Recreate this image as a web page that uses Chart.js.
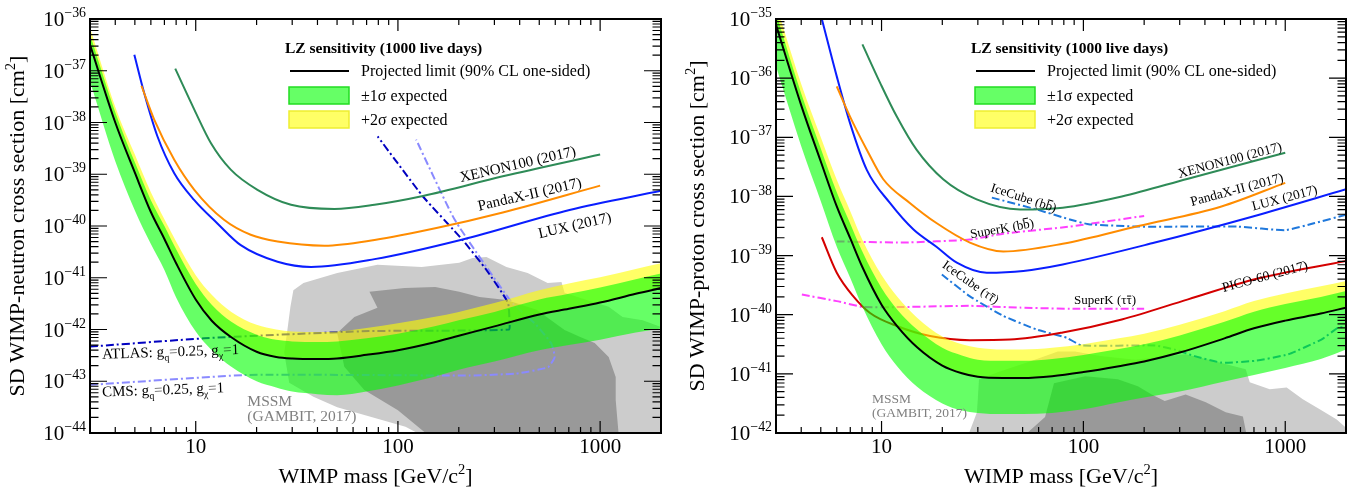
<!DOCTYPE html>
<html>
<head>
<meta charset="utf-8">
<script src="https://cdn.jsdelivr.net/npm/chart.js@4.4.0/dist/chart.umd.min.js"></script>
<style>
    html, body { margin: 0; padding: 0; background: #fff; }
    #wrap { position: relative; width: 1354px; height: 489px; }
    canvas { position: absolute; top: 0; }
    #neutronChart { left: 0; }
    #protonChart { left: 677px; }
</style>
</head>
<body>
<div id="wrap">
    <canvas id="neutronChart" width="677" height="489"></canvas>
    <canvas id="protonChart" width="677" height="489"></canvas>
</div>
<script>
// LZ projected SD sensitivity, values are log10(cross section / cm^2)

// Common WIMP mass grid for the LZ bands [GeV/c^2]
const massGrid = [3, 4, 5, 6, 7, 8, 10, 12, 15, 20, 25, 30, 40, 50, 70, 100, 150, 200, 300, 500, 700, 1000, 1500, 2000];

// Tick labels
const massTickValues = [10, 100, 1000];
const massTickLabels = ['10', '100', '1000'];
const neutronExponents = [-44, -43, -42, -41, -40, -39, -38, -37, -36];
const protonExponents = [-42, -41, -40, -39, -38, -37, -36, -35];

// ---- SD WIMP-neutron ----
const neutronMedian = [-36.50, -38.00, -38.97, -39.73, -40.25, -40.72, -41.42, -41.83, -42.15, -42.43, -42.53, -42.56, -42.57, -42.56, -42.49, -42.40, -42.25, -42.12, -41.94, -41.71, -41.60, -41.48, -41.31, -41.20];
const neutronPlus1 = [-36.30, -37.80, -38.77, -39.50, -40.00, -40.45, -41.12, -41.52, -41.85, -42.10, -42.20, -42.23, -42.24, -42.23, -42.17, -42.08, -41.94, -41.82, -41.66, -41.42, -41.31, -41.19, -41.03, -40.92];
const neutronPlus2 = [-36.17, -37.70, -38.62, -39.35, -39.87, -40.30, -40.95, -41.33, -41.66, -41.91, -42.00, -42.04, -42.05, -42.04, -41.97, -41.88, -41.76, -41.66, -41.49, -41.24, -41.11, -40.99, -40.83, -40.72];
const neutronMinus1 = [-37.21, -38.75, -39.70, -40.35, -40.85, -41.38, -42.04, -42.40, -42.72, -43.00, -43.12, -43.20, -43.25, -43.27, -43.20, -43.08, -42.92, -42.78, -42.62, -42.40, -42.30, -42.20, -42.06, -41.98];

const xenonNMass = [7.92, 9.84, 11.9, 14.9, 20.2, 29.6, 48.5, 76.6, 133, 330, 1000];
const xenonNLog = [-36.96, -37.75, -38.40, -38.91, -39.30, -39.59, -39.67, -39.59, -39.42, -39.04, -38.62];
const pandaNMass = [5.39, 6.24, 7.83, 9.84, 13.8, 18.7, 25.4, 43.3, 76.6, 155, 330, 1000];
const pandaNLog = [-37.29, -37.95, -38.72, -39.30, -39.88, -40.17, -40.30, -40.38, -40.27, -40.04, -39.74, -39.22];
const luxNMass = [4.97, 5.56, 6.47, 7.83, 9.84, 12.8, 16.7, 25.4, 37.2, 76.6, 209, 706, 2000];
const luxNLog = [-36.69, -37.43, -38.27, -38.98, -39.50, -39.95, -40.37, -40.69, -40.79, -40.64, -40.26, -39.69, -39.32];
const atlasMass = [3, 11, 30, 72, 354, 356, 350, 274, 209, 133, 79.4];
const atlasLog = [-42.33, -42.17, -42.09, -42.03, -42.00, -41.82, -41.48, -40.85, -40.27, -39.43, -38.27];
const cmsMass = [3, 17.4, 72, 226, 384, 552, 596, 573, 483, 363, 191, 123];
const cmsLog = [-43.07, -42.88, -42.88, -42.89, -42.85, -42.73, -42.53, -42.27, -41.91, -41.46, -39.88, -38.33];

// MSSM (GAMBIT) regions, outlines
const mssmNLightMass = [30.4, 34.1, 50.1, 79.2, 131, 201, 234, 274, 344, 438, 550, 644, 667, 857, 1102, 1291, 1622, 2000, 2000, 132, 109, 73.9, 50.1, 38.2, 29.0, 27.4, 28.4, 29.4];
const mssmNLightLog = [-41.24, -41.10, -40.91, -40.75, -40.79, -40.71, -40.62, -40.60, -40.79, -40.91, -41.10, -41.08, -41.29, -41.43, -41.56, -41.76, -41.82, -41.95, -44.05, -44.05, -43.88, -43.69, -43.50, -43.30, -43.03, -42.45, -42.01, -41.56];
const mssmNDarkMass = [72.3, 108, 153, 201, 253, 344, 485, 667, 792, 940, 1102, 1194, 1194, 1236, 142, 100, 68.2, 54.3, 50.1, 60.9, 79.2];
const mssmNDarkLog = [-41.27, -41.20, -41.18, -41.27, -41.37, -41.43, -41.62, -42.01, -42.14, -42.26, -42.53, -42.92, -43.36, -44.05, -44.05, -43.56, -43.17, -42.72, -42.07, -41.76, -41.58];

// ---- SD WIMP-proton ----
const protonMedian = [-35.10, -36.46, -37.41, -38.17, -38.71, -39.18, -39.83, -40.20, -40.55, -40.86, -40.99, -41.05, -41.07, -41.07, -41.04, -40.97, -40.87, -40.79, -40.64, -40.40, -40.23, -40.10, -39.98, -39.88];
const protonPlus1 = [-34.90, -36.26, -37.19, -37.93, -38.46, -38.92, -39.55, -39.92, -40.25, -40.56, -40.69, -40.76, -40.78, -40.78, -40.75, -40.68, -40.58, -40.50, -40.35, -40.12, -39.95, -39.82, -39.70, -39.60];
const protonPlus2 = [-34.75, -36.10, -37.00, -37.72, -38.25, -38.72, -39.33, -39.70, -40.05, -40.37, -40.50, -40.56, -40.59, -40.59, -40.56, -40.50, -40.40, -40.32, -40.17, -39.94, -39.77, -39.64, -39.52, -39.43];
const protonMinus1 = [-35.80, -37.15, -38.08, -38.85, -39.38, -39.85, -40.50, -40.88, -41.22, -41.50, -41.62, -41.66, -41.68, -41.68, -41.66, -41.60, -41.48, -41.40, -41.30, -41.13, -41.02, -40.90, -40.75, -40.59];

const xenonPMass = [8.04, 9.84, 11.9, 14.9, 20.2, 29.6, 48.5, 79, 155, 330, 1000];
const xenonPLog = [-35.43, -36.08, -36.65, -37.21, -37.71, -38.05, -38.22, -38.19, -38.00, -37.70, -37.26];
const pandaPMass = [6.0, 6.98, 8.45, 10.2, 13.8, 18.7, 27.4, 40.1, 79, 187, 483, 1000];
const pandaPLog = [-36.14, -36.65, -37.21, -37.71, -38.11, -38.45, -38.78, -38.93, -38.80, -38.50, -38.17, -37.77];
const luxPMass = [5.06, 6.0, 6.98, 8.45, 11.0, 14.4, 18.7, 23.6, 33.2, 50.4, 79, 226, 706, 2000];
const luxPLog = [-35.00, -35.97, -36.76, -37.55, -38.11, -38.56, -38.85, -39.12, -39.29, -39.26, -39.15, -38.78, -38.33, -37.88];
const picoMass = [5.06, 6.0, 7.25, 8.77, 11.9, 17.4, 27.4, 43.3, 79, 155, 330, 706, 2000];
const picoLog = [-38.69, -39.29, -39.69, -39.97, -40.19, -40.36, -40.43, -40.42, -40.30, -40.08, -39.74, -39.40, -39.09];
const iceBbMass = [35.2, 58.6, 85.7, 106, 187, 330, 584, 1000, 1400, 2000];
const iceBbLog = [-38.02, -38.22, -38.39, -38.47, -38.51, -38.51, -38.51, -38.57, -38.45, -38.31];
const superkBbMass = [6.0, 12.8, 27.4, 40, 85.7, 200];
const superkBbLog = [-38.76, -38.78, -38.73, -38.63, -38.51, -38.33];
const superkTauMass = [4.03, 6.0, 8.13, 12.8, 27.4, 48.5, 85.7, 200];
const superkTauLog = [-39.66, -39.77, -39.87, -39.87, -39.85, -39.88, -39.90, -39.90];
const iceTauMass = [19.9, 27.4, 40.1, 58.6, 82.6, 98, 226, 284, 356, 483, 706, 1033, 1510, 1825, 2000];
const iceTauLog = [-39.32, -39.69, -40.02, -40.25, -40.39, -40.52, -40.52, -40.59, -40.70, -40.81, -40.78, -40.67, -40.42, -40.22, -40.20];

const mssmPLightMass = [26.8, 29.7, 30.4, 38.6, 54.3, 74.8, 90.8, 121, 180, 321, 418, 637, 667, 838, 1016, 1222, 1482, 1799, 2000, 2000];
const mssmPLightLog = [-42.05, -41.65, -41.09, -40.96, -40.79, -40.62, -40.62, -40.70, -40.76, -40.67, -40.76, -40.92, -41.14, -41.26, -41.23, -41.43, -41.60, -41.77, -41.91, -42.05];
const mssmPDarkMass = [50.7, 64.6, 71.5, 102, 148, 186, 218, 253, 321, 404, 507, 617, 645];
const mssmPDarkLog = [-42.05, -41.73, -41.16, -41.04, -41.09, -41.21, -41.35, -41.46, -41.35, -41.48, -41.65, -41.72, -42.05];

// Styles
const FONT = '"Liberation Serif", "Times New Roman", Times, serif';
const dashDot = [8, 3, 2, 3];
const colors = {
    xenon: '#2e8b57',
    panda: '#ff8c00',
    lux: '#0a1eff',
    pico: '#d40000',
    atlas: '#0000c0',
    cms: '#8a8aff',
    icecube: '#1f78dc',
    superk: '#ff40ff',
    yellow: 'rgba(255, 255, 0, 0.6)',
    green: 'rgba(0, 255, 0, 0.6)',
    mssmLight: '#cccccc',
    mssmDark: '#999999'
};

function toPoints(masses, logs) {
    return masses.map((m, i) => ({ x: m, y: Math.pow(10, logs[i]) }));
}

// filled outline (MSSM regions)
function areaSet(label, data, color, order) {
    return {
        label: label, data: data, backgroundColor: color,
        borderColor: 'rgba(0,0,0,0)', borderWidth: 1,
        pointRadius: 0, tension: 0, fill: 'shape', order: order
    };
}

// smooth curve; opts.fill = dataset index to fill down to
function curveSet(label, data, color, order, opts) {
    return Object.assign({
        label: label, data: data, borderColor: color, borderWidth: 2,
        pointRadius: 0, cubicInterpolationMode: 'monotone', fill: false, order: order
    }, opts || {});
}

function dashSet(label, data, color, order) {
    return {
        label: label, data: data, borderColor: color, borderWidth: 2,
        borderDash: dashDot, pointRadius: 0, tension: 0.15, fill: false, order: order
    };
}

// Draw a run of text pieces with sub/superscripts and overlines
function drawRich(ctx, parts, x, y, size, opt) {
    opt = opt || {};
    ctx.save();
    ctx.translate(x, y);
    if (opt.angle) ctx.rotate(opt.angle * Math.PI / 180);
    ctx.fillStyle = opt.color || '#000';
    ctx.textBaseline = 'alphabetic';
    ctx.textAlign = 'left';
    const weight = opt.bold ? 'bold ' : '';
    const sized = parts.map(p => {
        const s = (p.sub || p.sup) ? size * 0.66 : size;
        ctx.font = weight + s + 'px ' + FONT;
        return { p: p, s: s, w: ctx.measureText(p.t).width };
    });
    const total = sized.reduce((acc, r) => acc + r.w, 0);
    let cx = opt.align === 'center' ? -total / 2 : (opt.align === 'right' ? -total : 0);
    const base = opt.middle ? size * 0.33 : 0;
    sized.forEach(r => {
        ctx.font = weight + r.s + 'px ' + FONT;
        const dy = base + (r.p.sub ? size * 0.28 : (r.p.sup ? -size * 0.42 : 0));
        ctx.fillText(r.p.t, cx, dy);
        if (r.p.over) {
            ctx.fillRect(cx + r.w * 0.1, dy - r.s * r.p.over, r.w * 0.8, Math.max(1, r.s * 0.07));
        }
        cx += r.w;
    });
    ctx.restore();
}

function drawLegend(ctx, a) {
    const x0 = a.left + 195;
    const y0 = a.top;
    drawRich(ctx, [{ t: 'LZ sensitivity (1000 live days)' }], x0, y0 + 29, 15.5, { bold: true, middle: true });
    ctx.strokeStyle = '#000';
    ctx.lineWidth = 2;
    ctx.beginPath();
    ctx.moveTo(x0 + 5, y0 + 52);
    ctx.lineTo(x0 + 64, y0 + 52);
    ctx.stroke();
    drawRich(ctx, [{ t: 'Projected limit (90% CL one-sided)' }], x0 + 76, y0 + 52, 16, { middle: true });

    ctx.lineWidth = 1.5;
    ctx.fillStyle = '#66ff66';
    ctx.strokeStyle = '#22dd22';
    ctx.fillRect(x0 + 4, y0 + 68, 60, 17);
    ctx.strokeRect(x0 + 4, y0 + 68, 60, 17);
    drawRich(ctx, [{ t: '\u00b11\u03c3 expected' }], x0 + 76, y0 + 77, 16, { middle: true });

    ctx.fillStyle = '#ffff66';
    ctx.strokeStyle = '#eeee30';
    ctx.fillRect(x0 + 4, y0 + 92, 60, 17);
    ctx.strokeRect(x0 + 4, y0 + 92, 60, 17);
    drawRich(ctx, [{ t: '+2\u03c3 expected' }], x0 + 76, y0 + 101, 16, { middle: true });
}

// ROOT-style frame, inward ticks, labels and annotations
function framePlugin(cfg) {
    return {
        id: 'rootFrame',
        afterDraw(chart) {
            const ctx = chart.ctx;
            const a = chart.chartArea;
            const xs = chart.scales.x;
            const ys = chart.scales.y;
            ctx.save();

            ctx.strokeStyle = '#000';
            ctx.lineWidth = 1.2;
            ctx.beginPath();
            for (let k = 0; k <= 3; k++) {
                for (let j = 1; j <= 9; j++) {
                    const v = j * Math.pow(10, k);
                    if (v <= 3 || v >= 2000) continue;
                    const px = xs.getPixelForValue(v);
                    const len = j === 1 ? 12 : 6;
                    ctx.moveTo(px, a.bottom); ctx.lineTo(px, a.bottom - len);
                    ctx.moveTo(px, a.top); ctx.lineTo(px, a.top + len);
                }
            }
            const eLo = cfg.exponents[0];
            const eHi = cfg.exponents[cfg.exponents.length - 1];
            for (let e = eLo; e < eHi; e++) {
                for (let j = 1; j <= 9; j++) {
                    if (e === eLo && j === 1) continue;
                    const py = ys.getPixelForValue(j * Math.pow(10, e));
                    const len = j === 1 ? 17 : 8.5;
                    ctx.moveTo(a.left, py); ctx.lineTo(a.left + len, py);
                    ctx.moveTo(a.right, py); ctx.lineTo(a.right - len, py);
                }
            }
            ctx.stroke();

            ctx.lineWidth = 2;
            ctx.strokeRect(a.left, a.top, a.right - a.left, a.bottom - a.top);

            // tick labels
            cfg.exponents.forEach(e => {
                const py = ys.getPixelForValue(Math.pow(10, e));
                drawRich(ctx, [{ t: '10' }, { t: '\u2212' + Math.abs(e), sup: true }], a.left - 4, py + 7, 21, { align: 'right' });
            });
            massTickValues.forEach((v, i) => {
                drawRich(ctx, [{ t: massTickLabels[i] }], xs.getPixelForValue(v), a.bottom + 20, 21, { align: 'center' });
            });

            // axis titles
            drawRich(ctx, [{ t: 'WIMP mass [GeV/c' }, { t: '2', sup: true }, { t: ']' }], (a.left + a.right) / 2, 483, 22, { align: 'center' });
            ctx.save();
            ctx.translate(cfg.yTitleX, (a.top + a.bottom) / 2);
            ctx.rotate(-Math.PI / 2);
            drawRich(ctx, cfg.yTitle, 0, 0, 22, { align: 'center' });
            ctx.restore();

            drawLegend(ctx, a);

            cfg.labels.forEach(l => {
                const px = xs.getPixelForValue(l.m);
                const py = ys.getPixelForValue(Math.pow(10, l.s));
                drawRich(ctx, l.parts, px, py, l.size, {
                    align: l.align || 'center', angle: l.angle || 0, middle: true, color: l.color
                });
            });
            ctx.restore();
        }
    };
}

function makeChart(canvasId, cfg) {
    return new Chart(document.getElementById(canvasId), {
        type: 'line',
        data: { datasets: cfg.datasets },
        options: {
            responsive: false,
            animation: false,
            devicePixelRatio: 1,
            events: [],
            layout: { padding: cfg.padding },
            plugins: { legend: { display: false }, tooltip: { enabled: false } },
            scales: {
                x: { type: 'logarithmic', min: 3, max: 2000, display: false },
                y: { type: 'logarithmic', min: Math.pow(10, cfg.exponents[0]), max: Math.pow(10, cfg.exponents[cfg.exponents.length - 1]), display: false }
            }
        },
        plugins: [framePlugin(cfg)]
    });
}

const none = 'rgba(0,0,0,0)';
const gq = [{ t: 'g' }, { t: 'q', sub: true }, { t: '=0.25, g' }, { t: '\u03c7', sub: true }, { t: '=1' }];

// dataset 0 = median, 1 = +1 sigma (fills to 2), 2 = -1 sigma, 3 = +2 sigma (fills to 0)
makeChart('neutronChart', {
    padding: { left: 90, right: 16, top: 19, bottom: 56 },
    exponents: neutronExponents,
    yTitleX: 24,
    yTitle: [{ t: 'SD WIMP-neutron cross section [cm' }, { t: '2', sup: true }, { t: ']' }],
    datasets: [
        curveSet('Projected limit', toPoints(massGrid, neutronMedian), '#000', 1),
        curveSet('+1 sigma', toPoints(massGrid, neutronPlus1), none, 3, { fill: 2, backgroundColor: colors.green }),
        curveSet('-1 sigma', toPoints(massGrid, neutronMinus1), none, 3),
        curveSet('+2 sigma', toPoints(massGrid, neutronPlus2), none, 4, { fill: 0, backgroundColor: colors.yellow }),
        curveSet('XENON100 (2017)', toPoints(xenonNMass, xenonNLog), colors.xenon, 5),
        curveSet('PandaX-II (2017)', toPoints(pandaNMass, pandaNLog), colors.panda, 5),
        curveSet('LUX (2017)', toPoints(luxNMass, luxNLog), colors.lux, 5),
        dashSet('ATLAS', toPoints(atlasMass, atlasLog), colors.atlas, 6),
        dashSet('CMS', toPoints(cmsMass, cmsLog), colors.cms, 6),
        areaSet('MSSM dark', toPoints(mssmNDarkMass, mssmNDarkLog), colors.mssmDark, 7),
        areaSet('MSSM light', toPoints(mssmNLightMass, mssmNLightLog), colors.mssmLight, 8)
    ],
    labels: [
        { parts: [{ t: 'XENON100 (2017)' }], m: 391, s: -38.80, angle: -13, size: 15 },
        { parts: [{ t: 'PandaX-II (2017)' }], m: 448, s: -39.38, angle: -13, size: 15 },
        { parts: [{ t: 'LUX (2017)' }], m: 748, s: -39.98, angle: -13, size: 15 },
        { parts: [{ t: 'ATLAS: ' }].concat(gq), m: 3.44, s: -42.47, angle: -2, size: 15, align: 'left' },
        { parts: [{ t: 'CMS: ' }].concat(gq), m: 3.44, s: -43.20, angle: -2, size: 15, align: 'left' },
        { parts: [{ t: 'MSSM' }], m: 18.0, s: -43.38, size: 15.5, align: 'left', color: '#808080' },
        { parts: [{ t: '(GAMBIT, 2017)' }], m: 18.0, s: -43.67, size: 15.5, align: 'left', color: '#808080' }
    ]
});

makeChart('protonChart', {
    padding: { left: 99, right: 8, top: 19, bottom: 56 },
    exponents: protonExponents,
    yTitleX: 27,
    yTitle: [{ t: 'SD WIMP-proton cross section [cm' }, { t: '2', sup: true }, { t: ']' }],
    datasets: [
        curveSet('Projected limit', toPoints(massGrid, protonMedian), '#000', 1),
        curveSet('+1 sigma', toPoints(massGrid, protonPlus1), none, 3, { fill: 2, backgroundColor: colors.green }),
        curveSet('-1 sigma', toPoints(massGrid, protonMinus1), none, 3),
        curveSet('+2 sigma', toPoints(massGrid, protonPlus2), none, 4, { fill: 0, backgroundColor: colors.yellow }),
        curveSet('XENON100 (2017)', toPoints(xenonPMass, xenonPLog), colors.xenon, 5),
        curveSet('PandaX-II (2017)', toPoints(pandaPMass, pandaPLog), colors.panda, 5),
        curveSet('LUX (2017)', toPoints(luxPMass, luxPLog), colors.lux, 5),
        curveSet('PICO-60 (2017)', toPoints(picoMass, picoLog), colors.pico, 5),
        dashSet('IceCube bb', toPoints(iceBbMass, iceBbLog), colors.icecube, 6),
        dashSet('IceCube tautau', toPoints(iceTauMass, iceTauLog), colors.icecube, 6),
        dashSet('SuperK bb', toPoints(superkBbMass, superkBbLog), colors.superk, 6),
        dashSet('SuperK tautau', toPoints(superkTauMass, superkTauLog), colors.superk, 6),
        areaSet('MSSM dark', toPoints(mssmPDarkMass, mssmPDarkLog), colors.mssmDark, 7),
        areaSet('MSSM light', toPoints(mssmPLightMass, mssmPLightLog), colors.mssmLight, 8)
    ],
    labels: [
        { parts: [{ t: 'XENON100 (2017)' }], m: 531, s: -37.38, angle: -15, size: 13.5 },
        { parts: [{ t: 'PandaX-II (2017)' }], m: 575, s: -37.88, angle: -15, size: 13.5 },
        { parts: [{ t: 'LUX (2017)' }], m: 993, s: -38.02, angle: -15, size: 13.5 },
        { parts: [{ t: 'PICO-60 (2017)' }], m: 792, s: -39.35, angle: -15, size: 13.5 },
        { parts: [{ t: 'IceCube (b' }, { t: 'b', over: 0.8 }, { t: ')' }], m: 50.7, s: -38.02, angle: 18, size: 13 },
        { parts: [{ t: 'SuperK (b' }, { t: 'b', over: 0.8 }, { t: ')' }], m: 39.5, s: -38.54, angle: -10, size: 13 },
        { parts: [{ t: 'IceCube (\u03c4' }, { t: '\u03c4', over: 0.62 }, { t: ')' }], m: 27.7, s: -39.45, angle: 35, size: 13 },
        { parts: [{ t: 'SuperK (\u03c4' }, { t: '\u03c4', over: 0.62 }, { t: ')' }], m: 128, s: -39.74, size: 13 },
        { parts: [{ t: 'MSSM' }], m: 8.97, s: -41.41, size: 13.5, align: 'left', color: '#808080' },
        { parts: [{ t: '(GAMBIT, 2017)' }], m: 8.97, s: -41.65, size: 13.5, align: 'left', color: '#808080' }
    ]
});
</script>
</body>
</html>
